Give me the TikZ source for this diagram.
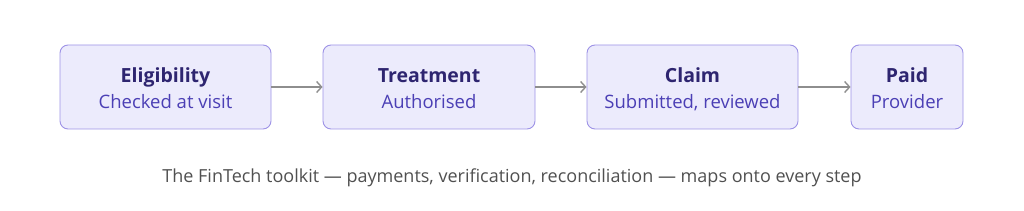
\documentclass[tikz,border=0pt]{standalone}
\usepackage{fontspec}
\setmainfont{Open Sans}
\usepackage{xcolor}
\usetikzlibrary{arrows.meta}
\definecolor{boxfill}{HTML}{ECEBFC}
\definecolor{boxline}{HTML}{9D92E6}
\definecolor{headtext}{HTML}{2E2570}
\definecolor{subtext}{HTML}{4B3FB5}
\definecolor{flowline}{HTML}{8E8E8E}
\definecolor{notetext}{HTML}{505050}

\begin{document}
\begin{tikzpicture}[x=1pt,y=1pt,
  stage/.style={draw=boxline,fill=boxfill,line width=0.9pt,rounded corners=8pt,
    minimum height=84pt,align=center,inner sep=0pt},
  flow/.style={draw=flowline,line width=1.6pt,-{Straight Barb[length=5pt,width=11pt,line width=1.4pt]}}]
  \useasboundingbox (0,0) rectangle (1024,211);
  \foreach \n/\c/\w/\t/\s in {elig/165.5/211/Eligibility/Checked at visit,
      treat/429/212/Treatment/Authorised,
      claim/692.5/211/Claim/{Submitted, reviewed},
      paid/907/112/Paid/Provider}{
    \node[stage,minimum width=\w pt] (\n) at (\c,124)
      {\fontsize{19.5}{22}\selectfont\color{headtext}\rule[-6.6pt]{0pt}{31pt}\textbf{\t}\\[3pt]
       \fontsize{18.5}{22}\selectfont\color{subtext}\strut\s};}
  \draw[flow] (elig) -- (treat);
  \draw[flow] (treat) -- (claim);
  \draw[flow] (claim) -- (paid);
  \node[font=\fontsize{18}{22}\selectfont,text=notetext] (note) at (512,33)
    {The FinTech toolkit — payments, verification, reconciliation — maps onto every step};
\end{tikzpicture}
\end{document}
